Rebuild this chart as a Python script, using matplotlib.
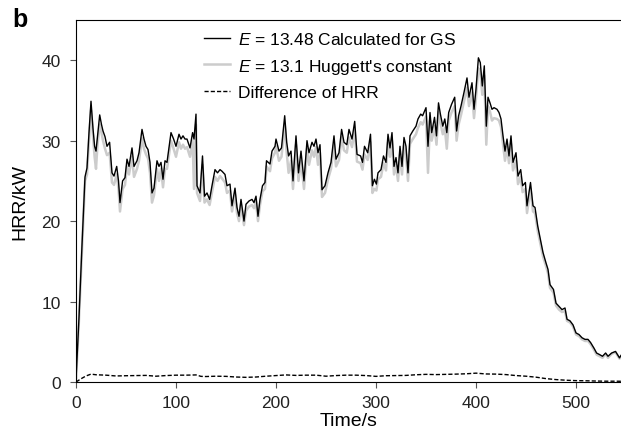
import matplotlib
matplotlib.use("Agg")
import matplotlib.pyplot as plt

plt.rcParams['font.family'] = ['Liberation Sans', 'DejaVu Sans']
plt.rcParams['mathtext.fontset'] = 'custom'
plt.rcParams['mathtext.it'] = 'Liberation Sans:italic'
plt.rcParams['mathtext.rm'] = 'Liberation Sans'

# HRR curves (time in s, HRR in kW)
time = [0, 3, 6, 9, 11, 13, 15, 17, 18.6, 20, 21.5, 23.7, 25.5, 27, 29, 31, 33.6, 36, 38, 40.7,
        42.5, 44, 46.6, 49, 51, 53, 56, 58, 61, 63, 66, 68, 70, 72, 74, 76, 78, 81, 83, 85,
        87, 89, 91, 95, 97.6, 100, 103, 105, 107, 109, 111, 114, 116.6, 118, 120, 121, 124, 126.5, 128.5, 131,
        133.6, 136, 139, 141.5, 144, 146, 149, 151, 154, 156, 159, 161, 163, 165, 168, 170, 173, 176, 178, 180,
        182, 184, 186.5, 189, 190.5, 194, 196, 199, 200, 203, 205.5, 208.7, 210.7, 212.6, 215, 217, 220, 222.5, 225, 228,
        231, 233, 236, 238, 240, 242, 244, 246, 249, 252, 255, 258, 260, 263, 265.6, 268, 270.8, 273, 276, 278.7,
        281, 284.6, 286.5, 288.5, 291.7, 294.5, 296.4, 298.4, 300.4, 302, 305, 307.5, 310, 312, 314, 316, 318, 320, 322, 324,
        326, 328, 330, 332, 334, 336.8, 340, 342, 344.7, 346.6, 350, 352, 354, 355.7, 358.5, 360.5, 362.5, 364.4, 366.8, 368.8,
        370.8, 372.7, 375.5, 378.7, 380.6, 382.6, 385, 388, 391, 393, 396, 398, 400, 402.4, 404.3, 406.3, 408.3, 410.3, 412, 414,
        416, 418, 421, 423, 425, 427, 429, 431, 433, 435, 437, 440, 442, 444.7, 446.6, 449.4, 451, 454.5, 457, 459,
        461.7, 464.4, 467, 470, 472, 474, 477.5, 480, 483, 486, 489, 491, 494, 497, 500, 503, 506, 509, 512, 514.6,
        518, 520.6, 523.7, 526.5, 529.6, 532, 535.6, 539.5, 543.5, 545]

hrr_gs = [0.3, 8.0, 17.0, 25.5, 26.6, 31.0, 34.9, 31.5, 29.3, 28.7, 30.5, 33.2, 32.0, 31.2, 30.5, 29.3, 29.8, 26.0, 25.6, 26.8,
          25.0, 22.3, 25.0, 25.4, 27.7, 26.8, 29.1, 26.8, 27.5, 28.5, 31.4, 30.2, 29.3, 28.9, 27.3, 23.5, 24.1, 27.5, 26.8, 27.3,
          25.2, 27.5, 27.3, 31.0, 30.2, 29.3, 30.8, 30.2, 30.6, 30.2, 30.2, 29.1, 31.0, 30.2, 33.3, 24.4, 23.5, 28.1, 23.1, 23.5,
          22.7, 24.4, 26.4, 26.0, 26.4, 26.2, 25.8, 24.4, 24.6, 21.9, 24.1, 21.7, 20.6, 22.7, 20.0, 22.1, 22.5, 22.7, 22.3, 23.1,
          20.6, 22.7, 24.4, 24.8, 27.5, 27.1, 28.7, 29.3, 30.2, 28.7, 29.1, 33.1, 29.8, 28.1, 28.7, 25.0, 30.6, 26.0, 28.7, 25.0,
          30.0, 28.5, 29.8, 29.3, 30.2, 28.5, 29.5, 23.9, 24.4, 26.0, 27.3, 30.6, 27.7, 28.5, 31.4, 29.8, 29.5, 31.4, 30.2, 32.4,
          28.3, 28.1, 27.3, 29.3, 28.5, 30.8, 24.4, 25.2, 24.6, 26.0, 26.4, 28.1, 27.3, 30.8, 29.1, 31.0, 26.8, 27.9, 26.0, 29.3,
          26.8, 30.4, 29.3, 26.0, 30.6, 31.2, 31.8, 32.7, 33.3, 33.1, 34.1, 29.3, 33.5, 31.0, 32.9, 30.6, 34.7, 33.3, 31.8, 32.7,
          31.0, 33.5, 34.5, 35.4, 31.2, 33.1, 34.3, 36.0, 37.8, 35.4, 37.2, 33.9, 36.4, 40.3, 39.7, 36.8, 39.3, 31.8, 35.4, 34.7,
          33.9, 34.1, 33.9, 33.5, 32.7, 30.6, 28.7, 30.2, 28.1, 30.6, 27.3, 28.5, 25.6, 26.4, 24.4, 24.8, 21.9, 24.8, 21.9, 21.7,
          19.4, 17.7, 16.1, 14.8, 14.0, 12.1, 11.5, 9.8, 9.4, 9.0, 9.2, 7.8, 7.6, 7.1, 6.1, 5.9, 5.5, 5.3, 5.3, 4.9,
          4.2, 3.6, 3.4, 3.2, 3.6, 3.2, 3.6, 3.8, 3.0, 3.3]

hrr_huggett = [0.2, 7.8, 16.5, 25.0, 25.8, 30.0, 33.8, 30.5, 28.0, 26.5, 29.5, 32.0, 31.0, 30.0, 29.0, 28.2, 28.5, 24.8, 24.5, 25.8,
               24.0, 21.2, 24.0, 24.5, 26.8, 25.8, 28.0, 25.5, 26.5, 27.5, 30.3, 29.0, 28.3, 27.8, 26.0, 22.3, 23.2, 26.5, 25.0, 26.5,
               24.2, 26.5, 26.5, 30.0, 29.0, 28.0, 29.8, 29.0, 29.5, 29.0, 29.2, 28.0, 30.0, 24.0, 32.0, 23.5, 22.5, 27.0, 22.3, 22.7,
               22.0, 23.6, 25.5, 25.0, 25.6, 25.3, 24.8, 23.5, 23.8, 21.2, 23.3, 21.0, 20.0, 22.0, 19.5, 21.3, 21.8, 22.0, 21.6, 22.4,
               20.0, 22.0, 23.7, 24.0, 26.8, 26.2, 27.8, 28.5, 29.3, 27.5, 28.0, 32.0, 28.5, 26.0, 27.5, 24.0, 29.5, 25.0, 27.5, 24.0,
               29.0, 27.0, 28.8, 28.0, 29.2, 27.0, 28.5, 23.0, 23.5, 25.2, 26.5, 29.5, 26.8, 27.6, 30.5, 28.8, 28.5, 30.4, 29.2, 31.3,
               27.4, 27.2, 26.4, 28.3, 27.6, 29.8, 23.5, 24.0, 23.8, 25.2, 25.5, 27.2, 26.3, 29.8, 28.0, 30.0, 25.8, 27.0, 25.0, 28.3,
               25.8, 29.4, 28.3, 25.0, 29.6, 30.2, 30.8, 31.6, 32.3, 32.0, 33.0, 26.0, 32.5, 30.0, 31.8, 29.5, 33.6, 32.2, 30.8, 31.6,
               29.0, 32.5, 33.5, 34.3, 30.0, 32.0, 33.2, 34.9, 36.6, 34.3, 36.0, 32.8, 35.3, 39.0, 38.5, 35.7, 38.1, 29.5, 34.3, 33.6,
               32.5, 32.8, 32.7, 32.5, 31.7, 29.6, 27.5, 29.2, 27.2, 29.6, 26.3, 27.5, 24.6, 25.5, 23.6, 24.0, 21.0, 24.0, 21.2, 21.0,
               18.8, 17.2, 15.6, 14.4, 13.5, 11.7, 11.1, 9.5, 9.0, 8.7, 8.8, 7.6, 7.4, 6.9, 5.9, 5.7, 5.3, 5.1, 5.1, 4.7,
               4.0, 3.4, 3.2, 3.0, 3.5, 3.0, 3.5, 3.7, 2.9, 3.2]

# difference curve (dashed)
time_diff = [0, 5, 10, 15, 20, 30, 40, 50, 60, 70, 80, 90, 100, 110, 120, 125, 130, 140, 150, 160,
             170, 180, 190, 200, 210, 220, 230, 240, 250, 260, 270, 280, 290, 300, 310, 320, 330, 340, 350, 360,
             370, 380, 390, 400, 410, 420, 430, 440, 450, 460, 470, 480, 490, 500, 510, 520, 530, 540, 545]
hrr_diff = [0, 0.4, 0.75, 0.98, 0.9, 0.85, 0.75, 0.78, 0.8, 0.82, 0.72, 0.8, 0.85, 0.85, 0.88, 0.7, 0.68, 0.72, 0.7, 0.62,
            0.58, 0.62, 0.72, 0.8, 0.88, 0.82, 0.85, 0.85, 0.72, 0.8, 0.85, 0.85, 0.8, 0.7, 0.78, 0.8, 0.82, 0.9, 0.95, 0.92,
            0.95, 0.98, 1.02, 1.1, 1.0, 0.98, 0.92, 0.8, 0.72, 0.6, 0.42, 0.3, 0.22, 0.17, 0.15, 0.12, 0.1, 0.1, 0.09]

fig = plt.figure(figsize=(6.21, 4.35), dpi=100)
ax = fig.add_axes([76 / 621, 52 / 435, 1 - 76 / 621, (383 - 21) / 435])

ax.plot(time, hrr_huggett, color='#cccccc', lw=1.8, label="$E$ = 13.1 Huggett's constant", zorder=2)
ax.plot(time, hrr_gs, color='black', lw=1.0, label="$E$ = 13.48 Calculated for GS", zorder=3)
ax.plot(time_diff, hrr_diff, color='black', lw=1.0, ls=(0, (3, 1.5)), label="Difference of HRR", zorder=3)

ax.set_xlim(0, 545)
ax.set_ylim(0, 45)
ax.set_xticks([0, 100, 200, 300, 400, 500])
ax.set_yticks([0, 10, 20, 30, 40])
ax.spines['right'].set_visible(False)
ax.tick_params(labelsize=12.5, length=4.5, color='#555555', labelcolor='#222222')
ax.tick_params(axis='y', pad=6.5)
ax.tick_params(axis='x', pad=5)
ax.set_xlabel("Time/s", fontsize=14, labelpad=1)
ax.set_ylabel("HRR/kW", fontsize=14, labelpad=9)

h, l = ax.get_legend_handles_labels()
order = [1, 0, 2]
ax.legend([h[i] for i in order], [l[i] for i in order], loc='upper left',
          bbox_to_anchor=(204 / 621, 1 - 32 / 435), bbox_transform=fig.transFigure,
          frameon=False, fontsize=12.5, handlelength=1.5, handletextpad=0.45,
          labelspacing=0.55, borderpad=0, borderaxespad=0)

fig.text(12 / 621, 1 - 27 / 435, "b", fontsize=18, fontweight='bold', va='baseline')

fig.savefig("out.png", dpi=100)
